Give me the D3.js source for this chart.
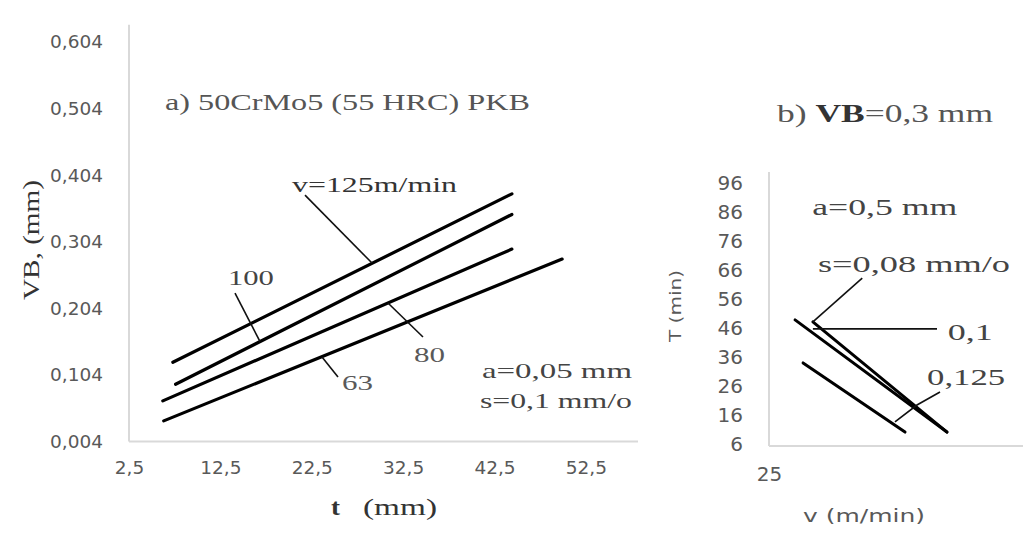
<!DOCTYPE html>
<html>
<head>
<meta charset="utf-8">
<script src="https://cdn.jsdelivr.net/npm/d3@7"></script>
<style>
  body { margin: 0; background: #fff; }
  svg { display: block; }
  .tick line { display: none; }
  .domain { display: none; }
</style>
</head>
<body>
<div id="chart"></div>
<script>
// ---- chart a) VB vs t, one line per cutting speed
const speedsA = ["125", "100", "80", "63"];
const tStart = [7.3, 7.6, 6.2, 6.3];
const tEnd = [44.4, 44.4, 44.4, 49.9];
const vbStart = [0.123, 0.090, 0.065, 0.035];
const vbEnd = [0.376, 0.345, 0.293, 0.278];
const ticksA_y = [0.004, 0.104, 0.204, 0.304, 0.404, 0.504, 0.604];
const ticksA_x = [2.5, 12.5, 22.5, 32.5, 42.5, 52.5];

// ---- chart b) T vs v, one line per feed
const feedsB = ["0,08", "0,1", "0,125"];
const vStart = [36.3, 31.2, 33.4];
const vEnd = [113.4, 113.4, 79.4];
const tlStart = [48.2, 48.9, 34.1];
const tlEnd = [10.3, 10.3, 10.3];
const ticksB_y = [6, 16, 26, 36, 46, 56, 66, 76, 86, 96];
const ticksB_x = [25];

const W = 1025, H = 533;
const grey = "#595959";
const serif = "'Liberation Serif', 'Times New Roman', serif";
const sans = "'DejaVu Sans', Verdana, sans-serif";

const svg = d3.select("#chart").append("svg")
  .attr("width", W).attr("height", H);

const fmt = d => String(d).replace(".", ",");

// stretched text helper (the source picture is widened)
function label(g, x, y, txt, len, opts = {}) {
  const t = g.append("text")
    .attr("x", x).attr("y", y)
    .attr("font-family", opts.family || serif)
    .attr("font-size", opts.size || 22)
    .attr("fill", opts.fill || grey)
    .text(txt);
  if (len) t.attr("textLength", len).attr("lengthAdjust", "spacingAndGlyphs");
  if (opts.weight) t.attr("font-weight", opts.weight);
  return t;
}

// ================= chart a =================
const xA = d3.scaleLinear().domain([2.5, 58.2]).range([129, 638]);
const yA = d3.scaleLinear().domain([0.004, 0.63]).range([441.5, 24.7]);
const gA = svg.append("g");

// axis lines
gA.append("line").attr("x1", xA(2.5)).attr("x2", xA(2.5))
  .attr("y1", yA(0.63)).attr("y2", yA(0.004))
  .attr("stroke", "#d9d9d9").attr("stroke-width", 2);
gA.append("line").attr("x1", xA(2.5)).attr("x2", xA(58.2))
  .attr("y1", yA(0.004)).attr("y2", yA(0.004))
  .attr("stroke", "#d9d9d9").attr("stroke-width", 2);

gA.append("g")
  .attr("transform", `translate(${xA(2.5)},0)`)
  .call(d3.axisLeft(yA).tickValues(ticksA_y).tickSize(0).tickPadding(26).tickFormat(fmt))
  .call(g => g.selectAll("text").attr("font-family", sans).attr("font-size", 18.5).attr("fill", grey));

gA.append("g")
  .attr("transform", `translate(0,${yA(0.004)})`)
  .call(d3.axisBottom(xA).tickValues(ticksA_x).tickSize(0).tickPadding(19).tickFormat(fmt))
  .call(g => g.selectAll("text").attr("font-family", sans).attr("font-size", 18.5).attr("fill", grey));

const linesA = speedsA.map((s, i) => [[tStart[i], vbStart[i]], [tEnd[i], vbEnd[i]]]);
gA.selectAll(".lineA").data(linesA).join("path")
  .attr("class", "lineA")
  .attr("d", d3.line().x(d => xA(d[0])).y(d => yA(d[1])))
  .attr("fill", "none").attr("stroke", "#000")
  .attr("stroke-width", 3.2).attr("stroke-linecap", "round");

// leaders for chart a
const leadersA = [
  [[21.76, 0.374], [29.09, 0.272]],
  [[14.1, 0.227], [16.84, 0.154]],
  [[30.84, 0.212], [34.67, 0.161]],
  [[23.62, 0.131], [25.37, 0.101]]
];
gA.selectAll(".leadA").data(leadersA).join("path")
  .attr("class", "leadA")
  .attr("d", d3.line().x(d => xA(d[0])).y(d => yA(d[1])))
  .attr("fill", "none").attr("stroke", "#111").attr("stroke-width", 1.6);

label(gA, xA(20.34), yA(0.379), "v=125m/min", 165, { fill: "#333" });
label(gA, xA(13.33), yA(0.239), "100", 46, { fill: "#444" });
label(gA, xA(33.69), yA(0.123), "80", 31);
label(gA, xA(25.81), yA(0.081), "63", 31);
label(gA, xA(41.13), yA(0.099), "a=0,05 mm", 150, { fill: "#444" });
label(gA, xA(40.91), yA(0.054), "s=0,1 mm/o", 152, { fill: "#444" });

// titles chart a
label(svg, 165, 110, "a) 50CrMo5 (55 HRC) PKB", 365, { size: 23, fill: "#555" });
label(svg, 331, 515, "t", 9, { size: 23, fill: "#333", weight: "bold" });
label(svg, 363, 515, "(mm)", 74, { size: 23, fill: "#333" });
label(svg, 0, 0, "VB, (mm)", 120, { size: 24, fill: "#333" })
  .attr("text-anchor", "middle")
  .attr("transform", "translate(39,240) rotate(-90)");

// ================= chart b =================
const xB = d3.scaleLog().domain([25, 250]).range([769, 1040]);
const yB = d3.scaleLinear().domain([5.5, 99.8]).range([446, 172]);
const gB = svg.append("g");

gB.append("line").attr("x1", 769).attr("x2", 769)
  .attr("y1", yB(99.8)).attr("y2", yB(5.5))
  .attr("stroke", "#d9d9d9").attr("stroke-width", 2);
gB.append("line").attr("x1", 769).attr("x2", 1023)
  .attr("y1", yB(5.5)).attr("y2", yB(5.5))
  .attr("stroke", "#d9d9d9").attr("stroke-width", 2);

gB.append("g")
  .attr("transform", "translate(769,0)")
  .call(d3.axisLeft(yB).tickValues(ticksB_y).tickSize(0).tickPadding(26))
  .call(g => g.selectAll("text").attr("font-family", sans).attr("font-size", 20).attr("fill", grey));

gB.append("g")
  .attr("transform", `translate(0,${yB(5.5)})`)
  .call(d3.axisBottom(xB).tickValues(ticksB_x).tickSize(0).tickPadding(21).tickFormat(d3.format("d")))
  .call(g => g.selectAll("text").attr("font-family", sans).attr("font-size", 20).attr("fill", grey));

const linesB = feedsB.map((s, i) => [[vStart[i], tlStart[i]], [vEnd[i], tlEnd[i]]]);
gB.selectAll(".lineB").data(linesB).join("path")
  .attr("class", "lineB")
  .attr("d", d3.line().x(d => xB(d[0])).y(d => yB(d[1])))
  .attr("fill", "none").attr("stroke", "#000")
  .attr("stroke-width", 3).attr("stroke-linecap", "round");

const leadersB = [
  [[55.2, 63.3], [36.3, 48.2]],
  [[36.3, 45.8], [104.2, 45.8]],
  [[106.9, 24.1], [87.9, 19.6], [72.9, 13.8]]
];
gB.selectAll(".leadB").data(leadersB).join("path")
  .attr("class", "leadB")
  .attr("d", d3.line().x(d => xB(d[0])).y(d => yB(d[1])))
  .attr("fill", "none").attr("stroke", "#111").attr("stroke-width", 1.6);

label(gB, xB(36.1), yB(85.0), "a=0,5 mm", 145, { size: 24, fill: "#444" });
label(gB, xB(37.9), yB(65.4), "s=0,08 mm/o", 192, { size: 24, fill: "#444" });
label(gB, xB(114.3), yB(42.0), "0,1", 45, { size: 24, fill: "#444" });
label(gB, xB(95.8), yB(26.5), "0,125", 78, { size: 24, fill: "#444" });

// titles chart b
const tb = svg.append("text")
  .attr("x", 777).attr("y", 122)
  .attr("font-family", serif).attr("font-size", 25).attr("fill", "#555")
  .attr("textLength", 216).attr("lengthAdjust", "spacingAndGlyphs");
tb.append("tspan").text("b) ");
tb.append("tspan").attr("font-weight", "bold").attr("fill", "#333").text("VB");
tb.append("tspan").text("=0,3 mm");

label(svg, 803, 522, "v (m/min)", 122, { family: sans, size: 18, fill: grey });
label(svg, 0, 0, "T (min)", 72, { family: sans, size: 16, fill: grey })
  .attr("text-anchor", "middle")
  .attr("transform", "translate(681,306) rotate(-90)");
</script>
</body>
</html>
